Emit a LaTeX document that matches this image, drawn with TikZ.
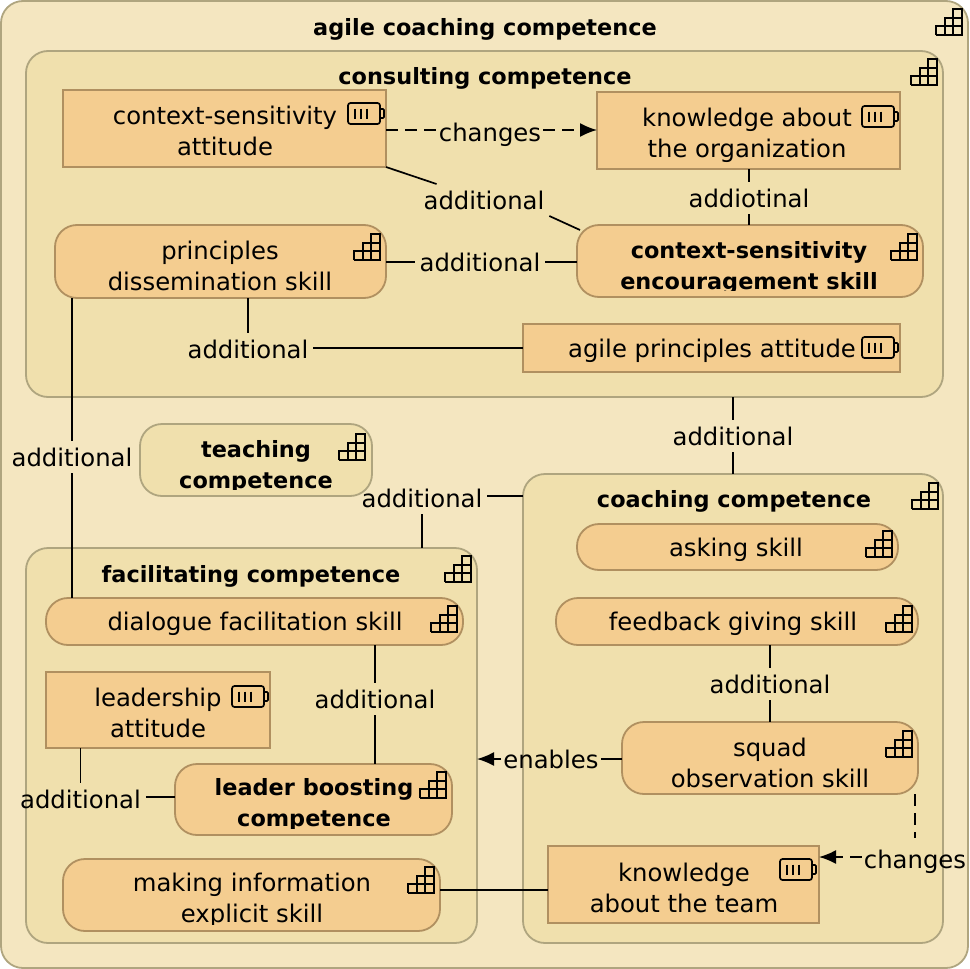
\documentclass[tikz,border=0pt]{standalone}
\usepackage{fontspec}
\setmainfont{DejaVu Sans}
\usetikzlibrary{arrows.meta}
\definecolor{outerfill}{HTML}{F4E6C0}
\definecolor{groupfill}{HTML}{F0E0AD}
\definecolor{boxfill}{HTML}{F4CD90}
\definecolor{groupline}{HTML}{AFA57F}
\definecolor{boxline}{HTML}{B09060}
\newcommand{\txtfont}{\fontsize{24.3}{30.8}\selectfont}
\newcommand{\ttlfont}{\fontsize{22.4}{30.8}\selectfont\bfseries}
\tikzset{
  x=1pt,y=-1pt,
  shape box/.style={rectangle,draw,inner sep=0pt,outer sep=0pt,line width=1.8pt},
  groupbox/.style={shape box,draw=groupline,fill=groupfill,rounded corners=22pt},
  outerbox/.style={groupbox,fill=outerfill},
  roundbox/.style={shape box,draw=boxline,fill=boxfill,rounded corners=22pt},
  softbox/.style={groupbox,draw=groupline},
  rectbox/.style={shape box,draw=boxline,fill=boxfill,rounded corners=0pt},
  boxtext/.style={inner sep=0pt,align=center,font=\txtfont,text=black},
  boxtitle/.style={inner sep=0pt,align=center,font=\ttlfont,text=black},
  linklabel/.style={inner xsep=5pt,inner ysep=2pt,outer sep=0pt,font=\txtfont,text=black,text height=23pt,text depth=5pt},
  tightlabel/.style={linklabel,inner xsep=2pt},
  link/.style={draw=black,line width=1.7pt},
  dashlink/.style={link,dash pattern=on 12pt off 7pt},
  arrowlink/.style={-{Latex[length=17pt,width=14pt]}},
  icon/.style={draw=black,line width=1.7pt},
}
% name, x1, y1, x2, y2, style
\newcommand{\nbox}[6]{%
  \pgfmathsetlengthmacro{\bw}{#4-#2}%
  \pgfmathsetlengthmacro{\bh}{#5-#3}%
  \node[#6,minimum width=\bw,minimum height=\bh] (#1) at ({(#2+#4)/2},{(#3+#5)/2}) {};}
% clip region: the box without its last 7 px
\newcommand{\cliptobox}[1]{\clip (#1.north west) rectangle ([yshift=7pt]#1.south east);}
% stairs icon: top-left x, y
\newcommand{\stairs}[2]{%
  \begin{scope}[shift={(#1,#2)}]
    \draw[icon] (0,26) -- (26,26) -- (26,0) -- (17.3,0) -- (17.3,26)
      (8.7,26) -- (8.7,8.7) -- (26,8.7)
      (0,26) -- (0,17.3) -- (26,17.3);
  \end{scope}}
% battery icon: top-left x, y
\newcommand{\battery}[2]{%
  \begin{scope}[shift={(#1,#2)}]
    \draw[icon,rounded corners=2.5pt] (0,0) rectangle (32,21);
    \draw[icon,rounded corners=1pt] (32,6) -- (36,6) -- (36,15) -- (32,15);
    \draw[icon] (7,5.5) -- (7,15.5) (13,5.5) -- (13,15.5) (19,5.5) -- (19,15.5);
  \end{scope}}
\begin{document}
\begin{tikzpicture}
\useasboundingbox (0,0) rectangle (969,969);
% containers
\nbox{agile}{1}{1}{968}{968}{outerbox}
\nbox{consulting}{26}{51}{943}{397}{groupbox}
\nbox{coaching}{523}{474}{943}{943}{groupbox}
\nbox{facilitating}{26}{548}{477}{943}{groupbox}
\nbox{teaching}{140}{424}{372}{496}{softbox}
% elements
\nbox{ctxatt}{63}{90}{386}{167}{rectbox}
\nbox{korg}{597}{92}{900}{169}{rectbox}
\nbox{princ}{55}{225}{386}{298}{roundbox}
\nbox{enc}{577}{225}{923}{297}{roundbox}
\nbox{agileatt}{523}{324}{900}{372}{rectbox}
\nbox{asking}{577}{524}{898}{570}{roundbox}
\nbox{feedback}{556}{598}{918}{645}{roundbox}
\nbox{squad}{622}{722}{918}{794}{roundbox}
\nbox{kteam}{548}{846}{819}{923}{rectbox}
\nbox{dialogue}{46}{598}{463}{645}{roundbox}
\nbox{leadatt}{46}{672}{270}{748}{rectbox}
\nbox{boost}{175}{764}{452}{835}{roundbox}
\nbox{making}{63}{859}{440}{931}{roundbox}
% titles and texts
\node[boxtitle] (tagile) at (485,29) {agile coaching competence};
\node[boxtitle] (tcons) at (485,78) {consulting competence};
\node[boxtitle] (tcoach) at (734,501) {coaching competence};
\node[boxtitle] (tfacil) at (251,576) {facilitating competence};
\node[boxtext] (tctx) at (225,131) {context-sensitivity\\attitude};
\node[boxtext] (tkorg) at (747,135) {knowledge about\\the organization};
\node[boxtext] (tprinc) at (220,266) {principles\\dissemination skill};
\begin{scope}
  \cliptobox{enc}
  \node[boxtitle] (tenc) at (749,268) {context-sensitivity\\encouragement skill};
\end{scope}
\node[boxtext] (tagileatt) at (712,351) {agile principles attitude};
\begin{scope}
  \cliptobox{teaching}
  \node[boxtitle] (tteach) at (256,467) {teaching\\competence};
\end{scope}
\node[boxtext] (task) at (736,550) {asking skill};
\node[boxtext] (tfeed) at (733,624) {feedback giving skill};
\node[boxtext] (tsquad) at (770,763) {squad\\observation skill};
\node[boxtext] (tkteam) at (684,888) {knowledge\\about the team};
\node[boxtext] (tdial) at (255,624) {dialogue facilitation skill};
\node[boxtext] (tlead) at (158,713) {leadership\\attitude};
\begin{scope}
  \cliptobox{boost}
  \node[boxtitle] (tboost) at (314,805) {leader boosting\\competence};
\end{scope}
\begin{scope}
  \cliptobox{making}
  \node[boxtext] (tmaking) at (252,900) {making information\\explicit skill};
\end{scope}
% icons
\stairs{936}{9}
\stairs{911}{59}
\stairs{354}{234}
\stairs{891}{234}
\stairs{339}{434}
\stairs{912}{483}
\stairs{866}{531}
\stairs{886}{606}
\stairs{886}{731}
\stairs{445}{556}
\stairs{431}{606}
\stairs{420}{772}
\stairs{408}{867}
\battery{348}{103}
\battery{862}{106}
\battery{862}{337}
\battery{232}{686}
\battery{780}{859}
% connector labels
\node[tightlabel] (l1) at (490,132) {changes};
\node[linklabel] (l2) at (484,200) {additional};
\node[linklabel] (l3) at (749,198) {addiotinal};
\node[linklabel] (l4) at (480,262) {additional};
\node[linklabel] (l5) at (248,349) {additional};
\node[linklabel] (l6) at (72,457) {additional};
\node[linklabel] (l7) at (733,436) {additional};
\node[linklabel] (l8) at (422,498) {additional};
\node[linklabel] (l9) at (770,684) {additional};
\node[tightlabel] (l10) at (551,759) {enables};
\node[linklabel] (l11) at (375,699) {additional};
\node[linklabel] (l12) at (80.5,799) {additional};
\node[tightlabel] (l13) at (915,859) {changes};
% connectors
\draw[dashlink] (ctxatt.east |- 0,130) -- (l1.west |- 0,130);
\draw[dashlink,arrowlink] (l1.east |- 0,130) -- (korg.west |- 0,130);
\draw[link] (ctxatt.south east) -- (l2);
\draw[link] (l2.south east) -- (580,230);
\draw[link] (korg.south -| l3) -- (l3);
\draw[link] (l3) -- (enc.north -| l3);
\draw[link] (princ.east |- l4) -- (l4);
\draw[link] (l4) -- (enc.west |- l4);
\draw[link] (princ.south -| l5) -- (l5);
\draw[link] (l5.east |- 0,348) -- (agileatt.west |- 0,348);
\draw[link] (princ.south -| l6) -- (l6);
\draw[link] (l6) -- (dialogue.north -| l6);
\draw[link] (consulting.south -| l7) -- (l7);
\draw[link] (l7) -- (coaching.north -| l7);
\draw[link] (coaching.west |- 0,496) -- (l8.east |- 0,496);
\draw[link] (l8) -- (facilitating.north -| l8);
\draw[link] (feedback.south -| l9) -- (l9);
\draw[link] (l9) -- (squad.north -| l9);
\draw[link] (squad.west |- l10) -- (l10);
\draw[link,arrowlink] (l10) -- (facilitating.east |- l10);
\draw[link] (dialogue.south -| l11) -- (l11);
\draw[link] (l11) -- (boost.north -| l11);
\draw[link] (leadatt.south -| l12) -- (l12);
\draw[link] (l12.east |- 0,797) -- (boost.west |- 0,797);
\draw[link] (making.east |- 0,890) -- (kteam.west |- 0,890);
\draw[dashlink,shorten >=5pt] (squad.south -| l13) -- (l13);
\draw[dashlink,arrowlink] (l13.west |- 0,857) -- (kteam.east |- 0,857);
\end{tikzpicture}
\end{document}
